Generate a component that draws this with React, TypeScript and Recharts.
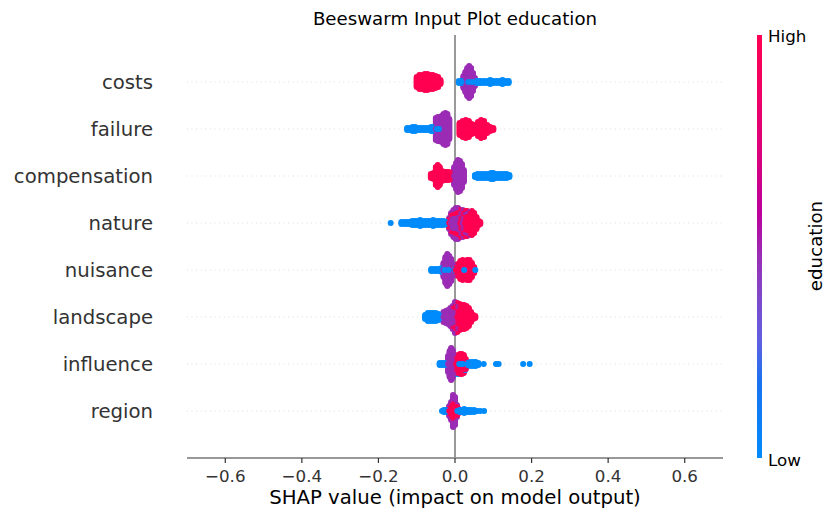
import { ScatterChart, Scatter, XAxis, YAxis } from "recharts";

// [shap value, number of samples, education level (0 low, 0.5 mid, 1 high)]
type Group = [number, number, number];

const features = ["costs", "failure", "compensation", "nature", "nuisance", "landscape", "influence", "region"];
const xTicks = [-0.6, -0.4, -0.2, 0, 0.2, 0.4, 0.6];

const costsShap: Group[] = [
  [-0.1, 11, 1], [-0.093, 15, 1], [-0.086, 15, 1], [-0.079, 17, 1], [-0.072, 17, 1],
  [-0.065, 15, 1], [-0.058, 15, 1], [-0.051, 13, 1], [-0.044, 11, 1], [-0.038, 5, 1],
  [0.022, 13, 0.5], [0.027, 21, 0.5], [0.032, 29, 0.5], [0.037, 33, 0.5], [0.042, 29, 0.5],
  [0.047, 19, 0.5], [0.052, 9, 0.5],
  [0.01, 3, 0], [0.017, 3, 0], [0.035, 1, 0], [0.045, 1, 0], [0.056, 3, 0], [0.062, 3, 0],
  [0.068, 3, 0], [0.076, 3, 0], [0.084, 3, 0], [0.092, 5, 0], [0.1, 3, 0], [0.108, 3, 0],
  [0.116, 3, 0], [0.124, 5, 0], [0.132, 3, 0], [0.14, 3, 0],
];

const failureShap: Group[] = [
  [-0.125, 3, 0], [-0.118, 3, 0], [-0.111, 5, 0], [-0.104, 5, 0], [-0.097, 3, 0], [-0.09, 3, 0],
  [-0.083, 3, 0], [-0.076, 3, 0], [-0.069, 3, 0], [-0.062, 5, 0], [-0.056, 5, 0],
  [-0.05, 23, 0.5], [-0.045, 25, 0.5], [-0.04, 25, 0.5], [-0.035, 27, 0.5], [-0.03, 31, 0.5],
  [-0.025, 33, 0.5], [-0.02, 31, 0.5], [-0.015, 21, 0.5],
  [-0.047, 1, 0], [-0.042, 1, 0],
  [0.012, 13, 1], [0.02, 17, 1], [0.028, 19, 1], [0.036, 17, 1], [0.044, 11, 1], [0.052, 9, 1],
  [0.06, 15, 1], [0.068, 19, 1], [0.076, 17, 1], [0.084, 9, 1], [0.092, 5, 1], [0.1, 3, 1],
];

const compensationShap: Group[] = [
  [-0.063, 5, 1], [-0.056, 7, 1], [-0.05, 19, 1], [-0.045, 23, 1], [-0.04, 19, 1], [-0.034, 11, 1],
  [-0.028, 9, 1], [-0.022, 9, 1], [-0.016, 9, 1], [-0.01, 7, 1],
  [-0.002, 19, 0.5], [0.003, 27, 0.5], [0.008, 33, 0.5], [0.013, 31, 0.5], [0.018, 25, 0.5], [0.023, 13, 0.5],
  [0.052, 3, 0], [0.059, 5, 0], [0.066, 5, 0], [0.073, 5, 0], [0.08, 5, 0], [0.087, 5, 0], [0.094, 7, 0],
  [0.1, 7, 0], [0.107, 5, 0], [0.114, 5, 0], [0.121, 5, 0], [0.128, 5, 0], [0.135, 5, 0], [0.142, 3, 0],
];

const natureShap: Group[] = [
  [-0.168, 1, 0], [-0.14, 3, 0], [-0.133, 3, 0], [-0.126, 3, 0], [-0.119, 3, 0], [-0.112, 5, 0],
  [-0.105, 5, 0], [-0.098, 5, 0], [-0.091, 7, 0], [-0.084, 5, 0], [-0.077, 5, 0], [-0.07, 5, 0],
  [-0.063, 5, 0], [-0.057, 7, 0], [-0.05, 5, 0], [-0.043, 5, 0], [-0.036, 5, 0], [-0.029, 5, 0], [-0.022, 3, 0],
  [-0.015, 8, 1], [-0.015, 4, 0.5],
  [-0.01, 8, 0.5], [-0.01, 8, 1], [-0.01, 6, 0.5],
  [-0.004, 10, 0.5], [-0.004, 8, 1], [-0.004, 10, 0.5],
  [0.002, 10, 0.5], [0.002, 10, 1], [0.002, 12, 0.5],
  [0.008, 12, 0.5], [0.008, 10, 1], [0.008, 10, 0.5],
  [0.014, 10, 1], [0.014, 10, 0.5], [0.014, 8, 1],
  [0.02, 10, 0.5], [0.02, 10, 1], [0.02, 8, 0.5],
  [0.026, 12, 1], [0.026, 6, 0.5], [0.026, 8, 1],
  [0.032, 14, 1], [0.032, 6, 0.5], [0.032, 6, 1],
  [0.038, 20, 1], [0.038, 4, 0.5],
  [0.044, 25, 1], [0.05, 21, 1], [0.056, 13, 1], [0.062, 5, 1], [0.066, 3, 1],
];

const nuisanceShap: Group[] = [
  [-0.062, 3, 0], [-0.055, 3, 0], [-0.048, 3, 0], [-0.041, 3, 0], [-0.035, 5, 0],
  [-0.03, 15, 0.5], [-0.025, 27, 0.5], [-0.02, 33, 0.5], [-0.015, 29, 0.5], [-0.01, 23, 0.5], [-0.005, 13, 0.5],
  [-0.027, 1, 0], [-0.017, 1, 0],
  [0.0, 3, 0], [0.0, 4, 0.5], [0.002, 5, 1],
  [0.008, 13, 1], [0.014, 19, 1], [0.02, 21, 1], [0.026, 19, 1], [0.032, 21, 1], [0.038, 21, 1],
  [0.044, 15, 1], [0.05, 7, 1],
  [0.024, 1, 0], [0.053, 1, 0],
];

const landscapeShap: Group[] = [
  [-0.078, 5, 0], [-0.071, 9, 0], [-0.064, 9, 0], [-0.057, 9, 0], [-0.05, 9, 0], [-0.043, 7, 0], [-0.037, 3, 0],
  [-0.03, 11, 0.5], [-0.024, 13, 0.5], [-0.018, 15, 0.5], [-0.012, 19, 0.5],
  [-0.006, 12, 0.5], [-0.006, 6, 1], [-0.006, 6, 0.5],
  [0.0, 10, 0.5], [0.0, 12, 1], [0.0, 10, 0.5],
  [0.006, 12, 1], [0.006, 10, 0.5], [0.006, 8, 1],
  [0.012, 27, 1], [0.018, 25, 1], [0.024, 25, 1], [0.03, 23, 1], [0.036, 19, 1], [0.042, 11, 1],
  [0.048, 5, 1], [0.053, 3, 1],
];

const influenceShap: Group[] = [
  [-0.04, 3, 0], [-0.034, 3, 0], [-0.028, 3, 0], [-0.022, 3, 0],
  [-0.018, 17, 0.5], [-0.014, 27, 0.5], [-0.01, 33, 0.5], [-0.006, 29, 0.5], [-0.002, 19, 0.5],
  [0.003, 11, 1], [0.008, 19, 1], [0.013, 21, 1], [0.018, 21, 1], [0.023, 19, 1], [0.028, 11, 1],
  [0.006, 1, 0], [0.011, 1, 0], [0.016, 1, 0], [0.021, 1, 0], [0.027, 1, 0],
  [0.033, 3, 0], [0.04, 5, 0], [0.047, 5, 0], [0.054, 5, 0], [0.061, 3, 0], [0.075, 1, 0],
  [0.107, 1, 0], [0.114, 1, 0], [0.178, 1, 0], [0.195, 1, 0],
];

const regionShap: Group[] = [
  [-0.034, 1, 0], [-0.029, 3, 0], [-0.024, 3, 0], [-0.019, 3, 0],
  [-0.015, 5, 1], [-0.015, 6, 0.5],
  [-0.01, 11, 1], [-0.01, 8, 0.5],
  [-0.005, 15, 1], [-0.005, 18, 0.5],
  [0.0, 13, 1], [0.0, 16, 0.5],
  [0.005, 9, 1], [0.005, 4, 0.5],
  [0.01, 5, 1], [0.006, 1, 0],
  [0.012, 3, 0], [0.018, 3, 0], [0.024, 5, 0], [0.03, 3, 0], [0.036, 3, 0], [0.042, 3, 0],
  [0.05, 3, 0], [0.058, 1, 0], [0.066, 1, 0], [0.076, 1, 0],
];

const rows: Group[][] = [
  costsShap, failureShap, compensationShap, natureShap,
  nuisanceShap, landscapeShap, influenceShap, regionShap,
];

const LEVEL_COLORS: Record<string, string> = { "0": "#008bfb", "0.5": "#9b2cb5", "1": "#ff0052" };

// shap-style beeswarm stacking: 100 bins over the row range, alternate up/down layers
function swarm(groups: Group[], row: number) {
  const pts: { x: number; lvl: number }[] = [];
  groups.forEach(([v, n, lvl]) => {
    for (let i = 0; i < n; i++) pts.push({ x: v, lvl });
  });
  const vals = pts.map((p) => p.x);
  const lo = Math.min(...vals);
  const hi = Math.max(...vals);
  const quant = pts.map((p) => Math.round((100 * (p.x - lo)) / (hi - lo + 1e-8)));
  const order = pts.map((_, i) => i).sort((a, b) => quant[a] - quant[b] || a - b);
  const ys = new Array(pts.length).fill(0);
  let layer = 0;
  let last = -1;
  for (const i of order) {
    if (quant[i] !== last) layer = 0;
    ys[i] = Math.ceil(layer / 2) * ((layer % 2) * 2 - 1);
    layer++;
    last = quant[i];
  }
  const m = Math.max(...ys.map((y) => y + 1));
  const s = (0.9 * 0.4) / m;
  return pts.map((p, i) => ({
    x: p.x,
    y: row + ys[i] * s,
    off: Math.abs(ys[i]),
    color: LEVEL_COLORS[String(p.lvl)],
  }));
}

const points = rows
  .flatMap((g, r) => swarm(g, r))
  .map((p, i) => ({ ...p, i }))
  .sort((a, b) => b.off - a.off || a.i - b.i);

// guide lines drawn as line-only scatter series so they sit behind the dots
const zeroLine = [{ x: 0, y: -1 }, { x: 0, y: 8 }];
const gridLines = features.map((_, i) => [{ x: -0.7, y: i }, { x: 0.7, y: i }]);

const FONT = "DejaVu Sans";

const fmt = (v: number) => (v < 0 ? "\u2212" + Math.abs(v).toFixed(1) : v.toFixed(1));

const XTick = (p: any) => (
  <text x={p.x} y={482} textAnchor="middle" fill="#333" fontSize={16.7} fontFamily={FONT}>
    {fmt(p.payload.value)}
  </text>
);

const YTick = (p: any) => (
  <text x={153} y={p.y + 7} textAnchor="end" fill="#333" fontSize={19.7} fontFamily={FONT}>
    {features[p.payload.value]}
  </text>
);

const Dot = (p: any) => <circle cx={p.cx} cy={p.cy} r={3} fill={p.payload.color} />;
const NoDot = () => <g />;

export default function App() {
  return (
    <div style={{ position: "absolute", left: 0, top: 0, width: 825, height: 515, background: "#fff" }}>
      <ScatterChart width={825} height={515} margin={{ top: 35, right: 102, bottom: 0, left: 0 }}>
        <XAxis
          type="number"
          dataKey="x"
          domain={[-0.7, 0.7]}
          ticks={xTicks}
          allowDataOverflow
          height={57}
          tickSize={5}
          tick={XTick}
          axisLine={{ stroke: "#333", strokeWidth: 1.2 }}
          tickLine={{ stroke: "#333", strokeWidth: 1.2 }}
        />
        <YAxis
          type="number"
          dataKey="y"
          domain={[-1, 8]}
          ticks={[0, 1, 2, 3, 4, 5, 6, 7]}
          reversed
          allowDataOverflow
          width={187}
          axisLine={false}
          tickLine={false}
          tick={YTick}
        />
        {gridLines.map((d, i) => (
          <Scatter
            key={`grid-${i}`}
            data={d}
            shape={NoDot}
            line={{ stroke: "#ccc", strokeWidth: 0.8, strokeDasharray: "0.8 3.8" }}
            isAnimationActive={false}
          />
        ))}
        <Scatter data={zeroLine} shape={NoDot} line={{ stroke: "#999", strokeWidth: 2 }} isAnimationActive={false} />
        <Scatter data={points} shape={Dot} isAnimationActive={false} />
      </ScatterChart>
      <svg width={825} height={515} style={{ position: "absolute", left: 0, top: 0, pointerEvents: "none" }}>
        <defs>
          <linearGradient id="cbar" x1="0" y1="0" x2="0" y2="1">
            <stop offset="0" stopColor="#ff0052" />
            <stop offset="0.15" stopColor="#ee0068" />
            <stop offset="0.3" stopColor="#d6007f" />
            <stop offset="0.42" stopColor="#bc009c" />
            <stop offset="0.52" stopColor="#9b2cb5" />
            <stop offset="0.62" stopColor="#7f48ca" />
            <stop offset="0.72" stopColor="#625ee0" />
            <stop offset="0.82" stopColor="#1a72f0" />
            <stop offset="1" stopColor="#008bfb" />
          </linearGradient>
        </defs>
        <text x={455} y={24.5} textAnchor="middle" fontSize={18.2} fontFamily={FONT} fill="#000">
          Beeswarm Input Plot education
        </text>
        <text x={455} y={504} textAnchor="middle" fontSize={19.7} fontFamily={FONT} fill="#000">
          SHAP value (impact on model output)
        </text>
        <rect x={757} y={35} width={5} height={423} fill="url(#cbar)" />
        <text x={768} y={42} fontSize={16.7} fontFamily={FONT} fill="#000">High</text>
        <text x={768} y={466} fontSize={16.7} fontFamily={FONT} fill="#000">Low</text>
        <text
          x={815}
          y={246}
          transform="rotate(-90 815 246)"
          textAnchor="middle"
          dominantBaseline="central"
          fontSize={18.2}
          fontFamily={FONT}
          fill="#000"
        >
          education
        </text>
      </svg>
    </div>
  );
}
